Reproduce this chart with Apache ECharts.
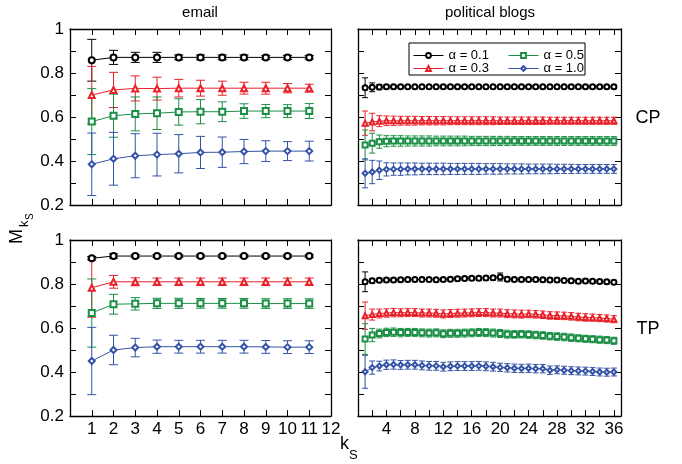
<!DOCTYPE html>
<html>
<head>
<meta charset="utf-8">
<script src="https://cdn.jsdelivr.net/npm/echarts@6/dist/echarts.min.js"></script>
<style>html,body{margin:0;padding:0;background:#fff}#c{width:682px;height:464px}</style>
</head>
<body>
<div id="c"></div>
<script>
// ---------- DATA ----------
const seriesNames = ['α = 0.1', 'α = 0.3', 'α = 0.5', 'α = 1.0'];
const emailX = [1, 2, 3, 4, 5, 6, 7, 8, 9, 10, 11];
const blogX = [1, 2, 3, 4, 5, 6, 7, 8, 9, 10, 11, 12,
  13, 14, 15, 16, 17, 18, 19, 20, 21, 22, 23, 24,
  25, 26, 27, 28, 29, 30, 31, 32, 33, 34, 35, 36];
const emailTicks = [1, 2, 3, 4, 5, 6, 7, 8, 9, 10, 11, 12];
const blogTicks = [4, 8, 12, 16, 20, 24, 28, 32, 36];
const yTicks = [0.2, 0.4, 0.6, 0.8, 1];

// email, CP
const cpEmailA01 = [0.858, 0.871, 0.871, 0.871, 0.871, 0.871, 0.871, 0.871, 0.871, 0.871, 0.871];
const cpEmailA01Err = [0.095, 0.032, 0.023, 0.023, 0.011, 0.011, 0.011, 0.011, 0.009, 0.009, 0.008];
const cpEmailA03 = [0.700, 0.723, 0.730, 0.729, 0.731, 0.731, 0.731, 0.731, 0.731, 0.731, 0.731];
const cpEmailA03Err = [0.130, 0.080, 0.057, 0.052, 0.040, 0.036, 0.032, 0.027, 0.027, 0.021, 0.018];
const cpEmailA05 = [0.579, 0.606, 0.614, 0.617, 0.623, 0.624, 0.624, 0.627, 0.627, 0.627, 0.627];
const cpEmailA05Err = [0.150, 0.098, 0.077, 0.074, 0.060, 0.055, 0.045, 0.033, 0.030, 0.029, 0.034];
const cpEmailA10 = [0.385, 0.410, 0.424, 0.429, 0.433, 0.439, 0.440, 0.443, 0.445, 0.445, 0.445];
const cpEmailA10Err = [0.142, 0.120, 0.100, 0.097, 0.087, 0.073, 0.069, 0.055, 0.047, 0.043, 0.045];

// email, TP
const tpEmailA01 = [0.917, 0.927, 0.927, 0.927, 0.927, 0.927, 0.927, 0.927, 0.927, 0.927, 0.927];
const tpEmailA01Err = [0.008, 0.010, 0.007, 0.006, 0.006, 0.006, 0.006, 0.006, 0.006, 0.006, 0.006];
const tpEmailA03 = [0.783, 0.810, 0.810, 0.810, 0.810, 0.810, 0.810, 0.810, 0.810, 0.810, 0.810];
const tpEmailA03Err = [0.134, 0.029, 0.018, 0.017, 0.017, 0.017, 0.017, 0.017, 0.017, 0.017, 0.017];
const tpEmailA05 = [0.668, 0.708, 0.710, 0.712, 0.712, 0.712, 0.712, 0.712, 0.711, 0.711, 0.711];
const tpEmailA05Err = [0.155, 0.045, 0.028, 0.023, 0.023, 0.022, 0.022, 0.022, 0.022, 0.022, 0.022];
const tpEmailA10 = [0.450, 0.500, 0.511, 0.515, 0.515, 0.515, 0.515, 0.515, 0.514, 0.513, 0.513];
const tpEmailA10Err = [0.153, 0.067, 0.042, 0.030, 0.029, 0.029, 0.029, 0.029, 0.029, 0.029, 0.029];

// political blogs, CP
const cpBlogA01 = [0.733, 0.735, 0.736, 0.737, 0.737, 0.737,
  0.737, 0.737, 0.737, 0.737, 0.737, 0.737,
  0.737, 0.737, 0.737, 0.737, 0.737, 0.737,
  0.737, 0.737, 0.737, 0.737, 0.737, 0.737,
  0.737, 0.737, 0.737, 0.737, 0.737, 0.737,
  0.737, 0.737, 0.737, 0.737, 0.737, 0.737];
const cpBlogA01Err = [0.045, 0.020, 0.012, 0.009, 0.008, 0.008,
  0.008, 0.008, 0.008, 0.008, 0.008, 0.008,
  0.008, 0.008, 0.008, 0.008, 0.008, 0.008,
  0.008, 0.008, 0.008, 0.008, 0.008, 0.008,
  0.008, 0.008, 0.008, 0.008, 0.008, 0.008,
  0.008, 0.008, 0.008, 0.008, 0.008, 0.008];
const cpBlogA03 = [0.572, 0.577, 0.581, 0.583, 0.583, 0.583,
  0.583, 0.583, 0.583, 0.583, 0.583, 0.583,
  0.583, 0.583, 0.583, 0.583, 0.583, 0.583,
  0.583, 0.583, 0.583, 0.583, 0.583, 0.583,
  0.583, 0.583, 0.583, 0.583, 0.583, 0.583,
  0.583, 0.583, 0.583, 0.583, 0.583, 0.583];
const cpBlogA03Err = [0.055, 0.040, 0.025, 0.022, 0.021, 0.020,
  0.020, 0.020, 0.019, 0.019, 0.019, 0.019,
  0.018, 0.018, 0.018, 0.018, 0.018, 0.018,
  0.018, 0.017, 0.017, 0.017, 0.017, 0.017,
  0.017, 0.017, 0.016, 0.016, 0.016, 0.016,
  0.016, 0.016, 0.016, 0.016, 0.016, 0.016];
const cpBlogA05 = [0.473, 0.481, 0.488, 0.490, 0.491, 0.491,
  0.491, 0.491, 0.491, 0.491, 0.491, 0.491,
  0.491, 0.491, 0.491, 0.491, 0.491, 0.491,
  0.491, 0.491, 0.491, 0.491, 0.491, 0.491,
  0.491, 0.491, 0.491, 0.491, 0.491, 0.491,
  0.491, 0.491, 0.491, 0.491, 0.491, 0.491];
const cpBlogA05Err = [0.068, 0.045, 0.030, 0.025, 0.024, 0.024,
  0.023, 0.023, 0.023, 0.023, 0.022, 0.022,
  0.022, 0.022, 0.022, 0.021, 0.021, 0.021,
  0.021, 0.021, 0.021, 0.020, 0.020, 0.020,
  0.020, 0.020, 0.020, 0.020, 0.020, 0.020,
  0.020, 0.020, 0.020, 0.020, 0.020, 0.020];
const cpBlogA10 = [0.344, 0.350, 0.358, 0.362, 0.363, 0.363,
  0.364, 0.364, 0.364, 0.364, 0.364, 0.364,
  0.364, 0.364, 0.364, 0.364, 0.364, 0.364,
  0.364, 0.364, 0.364, 0.364, 0.364, 0.364,
  0.364, 0.364, 0.364, 0.364, 0.364, 0.364,
  0.364, 0.364, 0.364, 0.364, 0.364, 0.364];
const cpBlogA10Err = [0.066, 0.053, 0.042, 0.030, 0.028, 0.028,
  0.027, 0.027, 0.026, 0.026, 0.026, 0.026,
  0.025, 0.025, 0.025, 0.025, 0.025, 0.024,
  0.024, 0.024, 0.023, 0.023, 0.023, 0.022,
  0.022, 0.022, 0.022, 0.021, 0.021, 0.021,
  0.020, 0.020, 0.020, 0.020, 0.020, 0.020];

// political blogs, TP
const tpBlogA01 = [0.810, 0.815, 0.817, 0.818, 0.818, 0.819,
  0.820, 0.820, 0.821, 0.820, 0.819, 0.820,
  0.822, 0.824, 0.825, 0.826, 0.826, 0.827,
  0.828, 0.832, 0.822, 0.821, 0.820, 0.821,
  0.820, 0.819, 0.818, 0.818, 0.816, 0.815,
  0.813, 0.814, 0.812, 0.811, 0.810, 0.808];
const tpBlogA01Err = [0.045, 0.010, 0.009, 0.009, 0.009, 0.009,
  0.009, 0.009, 0.009, 0.009, 0.009, 0.009,
  0.009, 0.009, 0.009, 0.009, 0.009, 0.009,
  0.010, 0.018, 0.010, 0.009, 0.009, 0.009,
  0.009, 0.009, 0.009, 0.009, 0.009, 0.009,
  0.009, 0.009, 0.009, 0.009, 0.009, 0.009];
const tpBlogA03 = [0.656, 0.661, 0.666, 0.668, 0.670, 0.669,
  0.670, 0.670, 0.668, 0.668, 0.667, 0.664,
  0.666, 0.667, 0.668, 0.669, 0.670, 0.670,
  0.668, 0.668, 0.665, 0.664, 0.663, 0.664,
  0.662, 0.660, 0.657, 0.656, 0.655, 0.653,
  0.650, 0.648, 0.647, 0.645, 0.643, 0.640];
const tpBlogA03Err = [0.062, 0.025, 0.020, 0.019, 0.019, 0.018,
  0.018, 0.018, 0.018, 0.018, 0.018, 0.018,
  0.018, 0.018, 0.018, 0.018, 0.018, 0.018,
  0.018, 0.018, 0.018, 0.018, 0.018, 0.017,
  0.017, 0.017, 0.017, 0.017, 0.017, 0.017,
  0.017, 0.017, 0.016, 0.016, 0.016, 0.016];
const tpBlogA05 = [0.550, 0.568, 0.575, 0.580, 0.581, 0.579,
  0.580, 0.580, 0.578, 0.577, 0.578, 0.574,
  0.576, 0.576, 0.577, 0.578, 0.580, 0.579,
  0.577, 0.575, 0.572, 0.571, 0.572, 0.570,
  0.568, 0.566, 0.563, 0.561, 0.559, 0.556,
  0.553, 0.551, 0.549, 0.547, 0.545, 0.542];
const tpBlogA05Err = [0.070, 0.030, 0.020, 0.019, 0.019, 0.019,
  0.018, 0.018, 0.018, 0.018, 0.018, 0.018,
  0.018, 0.018, 0.018, 0.018, 0.018, 0.018,
  0.018, 0.018, 0.018, 0.017, 0.017, 0.017,
  0.017, 0.017, 0.017, 0.017, 0.017, 0.017,
  0.016, 0.016, 0.016, 0.016, 0.016, 0.016];
const tpBlogA10 = [0.401, 0.420, 0.427, 0.433, 0.434, 0.432,
  0.433, 0.433, 0.430, 0.428, 0.428, 0.424,
  0.426, 0.427, 0.427, 0.427, 0.428, 0.426,
  0.424, 0.421, 0.419, 0.417, 0.416, 0.417,
  0.415, 0.415, 0.408, 0.410, 0.408, 0.406,
  0.405, 0.404, 0.402, 0.400, 0.399, 0.400];
const tpBlogA10Err = [0.075, 0.030, 0.022, 0.021, 0.021, 0.020,
  0.020, 0.020, 0.020, 0.020, 0.020, 0.020,
  0.020, 0.020, 0.020, 0.020, 0.020, 0.020,
  0.020, 0.019, 0.019, 0.019, 0.019, 0.019,
  0.019, 0.019, 0.019, 0.018, 0.018, 0.018,
  0.018, 0.018, 0.018, 0.018, 0.018, 0.018];

// ---------- STYLE ----------
const FONT = "'Liberation Sans', Arial, Helvetica, sans-serif";
const colors = ['#000000', '#e8212a', '#1b8f45', '#3553a6'];
const symbols = ['emptyCircle', 'emptyTriangle', 'emptyRect', 'emptyDiamond'];

const panels = [
  { grid: { left: 70, top: 29, width: 261, height: 176 }, xs: emailX, xMax: 12, xInt: 1, xLabels: false, yLabels: true, email: true,
    data: [[cpEmailA01, cpEmailA01Err], [cpEmailA03, cpEmailA03Err], [cpEmailA05, cpEmailA05Err], [cpEmailA10, cpEmailA10Err]] },
  { grid: { left: 358, top: 29, width: 263, height: 176 }, xs: blogX, xMax: 37, xInt: 2, xLabels: false, yLabels: false, email: false,
    data: [[cpBlogA01, cpBlogA01Err], [cpBlogA03, cpBlogA03Err], [cpBlogA05, cpBlogA05Err], [cpBlogA10, cpBlogA10Err]] },
  { grid: { left: 70, top: 240, width: 261, height: 176 }, xs: emailX, xMax: 12, xInt: 1, xLabels: true, yLabels: true, email: true,
    data: [[tpEmailA01, tpEmailA01Err], [tpEmailA03, tpEmailA03Err], [tpEmailA05, tpEmailA05Err], [tpEmailA10, tpEmailA10Err]] },
  { grid: { left: 358, top: 240, width: 263, height: 176 }, xs: blogX, xMax: 37, xInt: 2, xLabels: true, yLabels: false, email: false,
    data: [[tpBlogA01, tpBlogA01Err], [tpBlogA03, tpBlogA03Err], [tpBlogA05, tpBlogA05Err], [tpBlogA10, tpBlogA10Err]] }
];

const axisLine = { show: true, onZero: false, lineStyle: { color: '#000', width: 1.3 } };
const grids = [], xAxes = [], yAxes = [], series = [];

panels.forEach((p, gi) => {
  grids.push(Object.assign({ containLabel: false }, p.grid));
  const tickSet = p.email ? emailTicks : blogTicks;
  ['bottom', 'top'].forEach(pos => {
    xAxes.push({
      type: 'value', gridIndex: gi, position: pos, min: 0, max: p.xMax, interval: p.xInt,
      axisLine: axisLine,
      axisTick: { show: true, inside: true, length: 6, lineStyle: { color: '#000', width: 1 } },
      axisLabel: {
        show: pos === 'bottom' && p.xLabels, margin: 5, color: '#000', fontSize: 17, fontFamily: FONT,
        formatter: v => (tickSet.indexOf(v) >= 0 ? String(v) : '')
      },
      splitLine: { show: false }
    });
  });
  ['left', 'right'].forEach(pos => {
    yAxes.push({
      type: 'value', gridIndex: gi, position: pos, min: 0.2, max: 1, interval: 0.2,
      axisLine: axisLine,
      axisTick: { show: true, inside: true, length: 6, lineStyle: { color: '#000', width: 1 } },
      minorTick: { show: true, splitNumber: 2, length: 6, lineStyle: { color: '#000', width: 1 } },
      axisLabel: {
        show: pos === 'left' && p.yLabels, margin: 6, color: '#000', fontSize: 17, fontFamily: FONT,
        formatter: v => {
          const r = Math.round(v * 10) / 10;
          return yTicks.indexOf(r) >= 0 ? (r === 1 ? '1' : r.toFixed(1)) : '';
        }
      },
      splitLine: { show: false }
    });
  });

  const capW = p.email ? 9 : 6;
  p.data.forEach((pair, si) => {
    const mean = pair[0], err = pair[1];
    const ebData = p.xs.map((x, i) => [x, mean[i] - err[i], mean[i] + err[i]]);
    series.push({
      type: 'custom', name: seriesNames[si] + ' err', xAxisIndex: gi * 2, yAxisIndex: gi * 2,
      data: ebData, encode: { x: 0, y: [1, 2] }, z: 2, silent: true,
      renderItem: (params, api) => {
        const x = api.value(0);
        const lo = api.coord([x, api.value(1)]);
        const hi = api.coord([x, api.value(2)]);
        const st = { stroke: colors[si], lineWidth: 1, fill: null };
        return {
          type: 'group', children: [
            { type: 'line', shape: { x1: lo[0], y1: lo[1], x2: hi[0], y2: hi[1] }, style: st },
            { type: 'line', shape: { x1: lo[0] - capW / 2, y1: lo[1], x2: lo[0] + capW / 2, y2: lo[1] }, style: st },
            { type: 'line', shape: { x1: hi[0] - capW / 2, y1: hi[1], x2: hi[0] + capW / 2, y2: hi[1] }, style: st }
          ]
        };
      }
    });
    series.push({
      type: 'line', name: seriesNames[si], xAxisIndex: gi * 2, yAxisIndex: gi * 2,
      data: p.xs.map((x, i) => [x, mean[i]]),
      symbol: symbols[si], symbolSize: p.email ? 6 : 5, showAllSymbol: true,
      lineStyle: { color: colors[si], width: 1 },
      itemStyle: { color: colors[si], borderColor: colors[si], borderWidth: 1 },
      z: 3, silent: true
    });
  });
});

const legendPos = [[413, 49], [413, 62], [508, 49], [508, 62]];
const legends = seriesNames.map((n, i) => ({
  data: [n], left: legendPos[i][0], top: legendPos[i][1], padding: 0,
  itemWidth: 30, itemHeight: 6, selectedMode: false, z: 10,
  itemStyle: { borderWidth: 1 }, lineStyle: { width: 1 },
  textStyle: { fontSize: 13, fontFamily: FONT, color: '#000' }
}));

const chart = echarts.init(document.getElementById('c'), null, { renderer: 'canvas' });
chart.setOption({
  animation: false,
  backgroundColor: '#fff',
  grid: grids, xAxis: xAxes, yAxis: yAxes, series: series,
  legend: legends,
  graphic: [
    { type: 'rect', z: 5, shape: { x: 409, y: 43, width: 176, height: 32 }, style: { fill: '#fff', stroke: '#000', lineWidth: 1 } },
    { type: 'text', x: 200, y: 13, style: { text: 'email', fontSize: 15, fontFamily: FONT, fill: '#000', align: 'center', verticalAlign: 'middle' } },
    { type: 'text', x: 490, y: 13, style: { text: 'political blogs', fontSize: 15, fontFamily: FONT, fill: '#000', align: 'center', verticalAlign: 'middle' } },
    { type: 'text', x: 648, y: 118, style: { text: 'CP', fontSize: 18, fontFamily: FONT, fill: '#000', align: 'center', verticalAlign: 'middle' } },
    { type: 'text', x: 648, y: 329, style: { text: 'TP', fontSize: 18, fontFamily: FONT, fill: '#000', align: 'center', verticalAlign: 'middle' } },
    { type: 'group', x: 26, y: 244, rotation: Math.PI / 2, children: [
      { type: 'text', x: 0, y: 0, style: { text: 'M', fontSize: 18, fontFamily: FONT, fill: '#000', align: 'left', verticalAlign: 'bottom' } },
      { type: 'text', x: 17, y: 5, style: { text: 'k', fontSize: 13, fontFamily: FONT, fill: '#000', align: 'left', verticalAlign: 'bottom' } },
      { type: 'text', x: 24, y: 9, style: { text: 'S', fontSize: 10, fontFamily: FONT, fill: '#000', align: 'left', verticalAlign: 'bottom' } }
    ] },
    { type: 'text', x: 340, y: 453, style: { text: 'k', fontSize: 18, fontFamily: FONT, fill: '#000', align: 'left', verticalAlign: 'bottom' } },
    { type: 'text', x: 349, y: 462, style: { text: 'S', fontSize: 13, fontFamily: FONT, fill: '#000', align: 'left', verticalAlign: 'bottom' } }
  ]
});
</script>
</body>
</html>
